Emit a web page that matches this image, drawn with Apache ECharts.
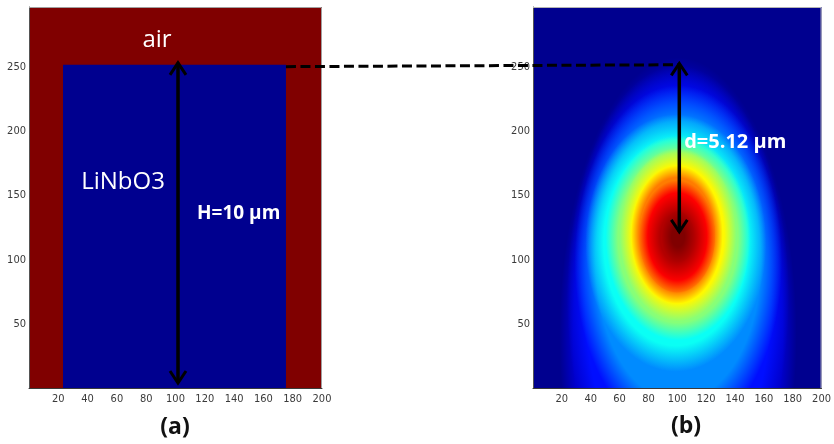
<!DOCTYPE html>
<html><head><meta charset="utf-8">
<script src="https://cdn.jsdelivr.net/npm/echarts@6/dist/echarts.min.js"></script>
<style>html,body{margin:0;padding:0;background:#fff}#c{width:834px;height:444px}</style>
</head><body><div id="c"></div>
<script>
// ---------- axes ----------
const xTicks = [20, 40, 60, 80, 100, 120, 140, 160, 180, 200];
const yTicks = [50, 100, 150, 200, 250];
const X_MIN = 0, X_MAX = 200, Y_MIN = 0, Y_MAX = 297;

// ---------- panel (a): index map (0 = LiNbO3, 1 = air) ----------
const regionNames  = ['air', 'LiNbO3'];
const regionValues = [1, 0];
const regionX0 = [0, 23.2];
const regionX1 = [200, 175.4];
const regionY0 = [0, 0];
const regionY1 = [297, 252];

// ---------- panel (b): normalised mode intensity, iso-contours ----------
const modeLevels  = [0.0, 0.06, 0.125, 0.25, 0.375, 0.5, 0.625, 0.75, 0.875, 0.95, 1.0];
const modeXLeft   = [20, 28, 36, 43.5, 49, 59, 68.5, 73.5, 79.5, 88, 96];
const modeXRight  = [182, 173, 165, 158, 149, 142, 132.5, 126, 120.5, 112, 105];
const modeYBottom = [-200, -150, -80, -10, 33, 51, 66, 75, 84, 98, 110];
const modeYTop    = [240, 232, 222, 208, 193, 183, 173, 164, 152, 137, 126];

// ---------- annotations ----------
const arrowA = { x: 101.7, y0: 3.9, y1: 253.5, label: 'H=10 µm' };
const arrowB = { x: 101.4, y0: 121.7, y1: 253, label: 'd=5.12 µm' };
const guideFrom = [175.4, 250.5];   // panel (a) core corner
const guideTo   = [101.4, 252];     // panel (b) arrow tip

// jet colormap (MATLAB 64-step range)
function jetRGB(v) {
  const t = 0.015625 + v * 0.984375;
  const c = x => Math.max(0, Math.min(1, x));
  return [c(1.5 - Math.abs(4 * t - 3)), c(1.5 - Math.abs(4 * t - 2)), c(1.5 - Math.abs(4 * t - 1))].map(x => Math.round(x * 255));
}
function jet(v, a) {
  const q = jetRGB(v);
  return 'rgba(' + q[0] + ',' + q[1] + ',' + q[2] + ',' + (a === undefined ? 1 : a) + ')';
}

const labelStyle = { color: '#3a3a3a', fontFamily: '"Liberation Sans Narrow", "DejaVu Sans Condensed", "Liberation Sans", sans-serif', fontSize: 11 };

function xAxisFor(g) {
  return {
    gridIndex: g, type: 'value', min: X_MIN, max: X_MAX, interval: 20, z: 5,
    axisLine: { show: true, onZero: false, lineStyle: { color: '#3a3a3a', width: 1 } },
    axisTick: { show: false }, splitLine: { show: false },
    axisLabel: Object.assign({ margin: 6, formatter: v => xTicks.includes(v) ? String(v) : '' }, labelStyle)
  };
}
function yAxisFor(g) {
  return {
    gridIndex: g, type: 'value', min: Y_MIN, max: Y_MAX, interval: 50, z: 5,
    axisLine: { show: true, onZero: false, lineStyle: { color: '#555', width: 1 } },
    axisTick: { show: false }, splitLine: { show: false },
    axisLabel: Object.assign({ margin: 3, formatter: v => yTicks.includes(v) ? String(v) : '' }, labelStyle)
  };
}

const regionData = regionNames.map((n, i) => ({ name: n, value: [regionValues[i], regionX0[i], regionX1[i], regionY0[i], regionY1[i]] }));
const modeData = modeLevels.map((l, i) => [l, modeXLeft[i], modeXRight[i], modeYBottom[i], modeYTop[i]]);

const chart = echarts.init(document.getElementById('c'), null, { renderer: 'canvas' });
const option = {
  animation: false,
  grid: [
    { left: 29, top: 7, width: 293, height: 381, show: true, borderWidth: 0, backgroundColor: jet(0) },
    { left: 533, top: 7, width: 294, height: 381, show: true, borderWidth: 0, backgroundColor: jet(0) }
  ],
  xAxis: [xAxisFor(0), xAxisFor(1)],
  yAxis: [yAxisFor(0), yAxisFor(1)],
  series: [
    {
      type: 'custom', name: 'index', xAxisIndex: 0, yAxisIndex: 0, clip: true,
      encode: { x: [1, 2], y: [3, 4] },
      data: regionData,
      renderItem(params, api) {
        const p0 = api.coord([api.value(1), api.value(4)]);
        const p1 = api.coord([api.value(2), api.value(3)]);
        return { type: 'rect', shape: { x: p0[0], y: p0[1], width: p1[0] - p0[0], height: p1[1] - p0[1] },
                 style: { fill: jet(api.value(0)) } };
      }
    },
    {
      type: 'custom', name: 'mode', xAxisIndex: 1, yAxisIndex: 1, clip: true,
      encode: { x: [1, 2], y: [3, 4] },
      data: modeData,
      renderItem(params, api) {
        const i = params.dataIndex;
        if (i === 0) return null;            // outermost contour = background edge
        const o = i - 1;
        const xl = api.value(1), xr = api.value(2), yb = api.value(3), yt = api.value(4), lv = api.value(0);
        const wI = xr - xl, hI = yt - yb;
        const wO = modeXRight[o] - modeXLeft[o], hO = modeYTop[o] - modeYBottom[o];
        const k = (wO / wI + hO / hI) / 2;   // fade out towards the next-lower contour
        const cxD = (xl + xr) / 2, cyD = (yb + yt) / 2;
        const pa = api.coord([cxD - wI * k / 2, cyD + hI * k / 2]);
        const pb = api.coord([cxD + wI * k / 2, cyD - hI * k / 2]);
        const cx = (pa[0] + pb[0]) / 2, cy = (pa[1] + pb[1]) / 2;
        const rx = Math.abs(pb[0] - pa[0]) / 2, ry = Math.abs(pb[1] - pa[1]) / 2;
        const f = 1 / k;
        return {
          type: 'circle', x: cx, y: cy, scaleX: rx / ry, scaleY: 1,
          shape: { cx: 0, cy: 0, r: ry },
          style: { fill: { type: 'radial', x: 0.5, y: 0.5, r: 0.5, colorStops: [
            { offset: 0, color: jet(lv, 1) }, { offset: f, color: jet(lv, 1) }, { offset: 1, color: jet(lv, 0) } ] } }
        };
      }
    }
  ]
};
chart.setOption(option);

// ---------- overlay annotations (positions from the axes' scales) ----------
const P = (g, pt) => chart.convertToPixel({ gridIndex: g }, pt);
function chevron(tip, dir) { // dir = +1 points up, -1 points down
  return { type: 'polyline', z: 100, shape: { points: [[tip[0] - 8, tip[1] + 12 * dir], tip, [tip[0] + 8, tip[1] + 12 * dir]] },
           style: { stroke: '#000', lineWidth: 3, fill: null, lineJoin: 'miter' } };
}
function shaft(a, b) {
  return { type: 'line', z: 100, shape: { x1: a[0], y1: a[1], x2: b[0], y2: b[1] }, style: { stroke: '#000', lineWidth: 3.5 } };
}
function txt(p, s, size, weight, color, align) {
  return { type: 'text', z: 101, x: p[0], y: p[1],
           style: { text: s, fill: color, fontFamily: '"Open Sans", "Noto Sans", sans-serif', fontSize: size, fontWeight: weight,
                    align: align, textAlign: align, verticalAlign: 'middle', textVerticalAlign: 'middle' } };
}
function frame(g, color) { // top and right edges of a plot box
  const tl = P(g, [X_MIN, Y_MAX]), tr = P(g, [X_MAX, Y_MAX]), br = P(g, [X_MAX, Y_MIN]);
  return { type: 'polyline', z: 50, shape: { points: [[tl[0], tl[1] + 0.5], [tr[0] - 0.5, tr[1] + 0.5], [br[0] - 0.5, br[1]]] },
           style: { stroke: color, lineWidth: 1, fill: null } };
}
const aTop = P(0, [arrowA.x, arrowA.y1]), aBot = P(0, [arrowA.x, arrowA.y0]);
const bTop = P(1, [arrowB.x, arrowB.y1]), bBot = P(1, [arrowB.x, arrowB.y0]);
const gA = P(0, guideFrom), gB = P(1, guideTo);
chart.setOption({
  graphic: [
    frame(0, '#a0a0a0'), frame(1, '#b4b4b4'),
    { type: 'line', z: 99, shape: { x1: gA[0], y1: gA[1], x2: gB[0], y2: gB[1] },
      style: { stroke: '#000', lineWidth: 3, lineDash: [10, 4.5] } },
    shaft(aTop, aBot), chevron(aTop, 1), chevron(aBot, -1),
    shaft(bTop, bBot), chevron(bTop, 1), chevron(bBot, -1),
    txt(P(0, [87.4, 271]), 'air', 24, 'normal', '#fff', 'center'),
    txt(P(0, [64.2, 160.7]), 'LiNbO3', 24, 'normal', '#fff', 'center'),
    txt(P(0, [114.7, 135.7]), arrowA.label, 19, 'bold', '#fff', 'left'),
    txt(P(1, [104.8, 191.9]), arrowB.label, 20, 'bold', '#fff', 'left'),
    txt([175, 427], '(a)', 23, 'bold', '#111', 'center'),
    txt([686, 426], '(b)', 23, 'bold', '#111', 'center')
  ]
});
</script></body></html>
